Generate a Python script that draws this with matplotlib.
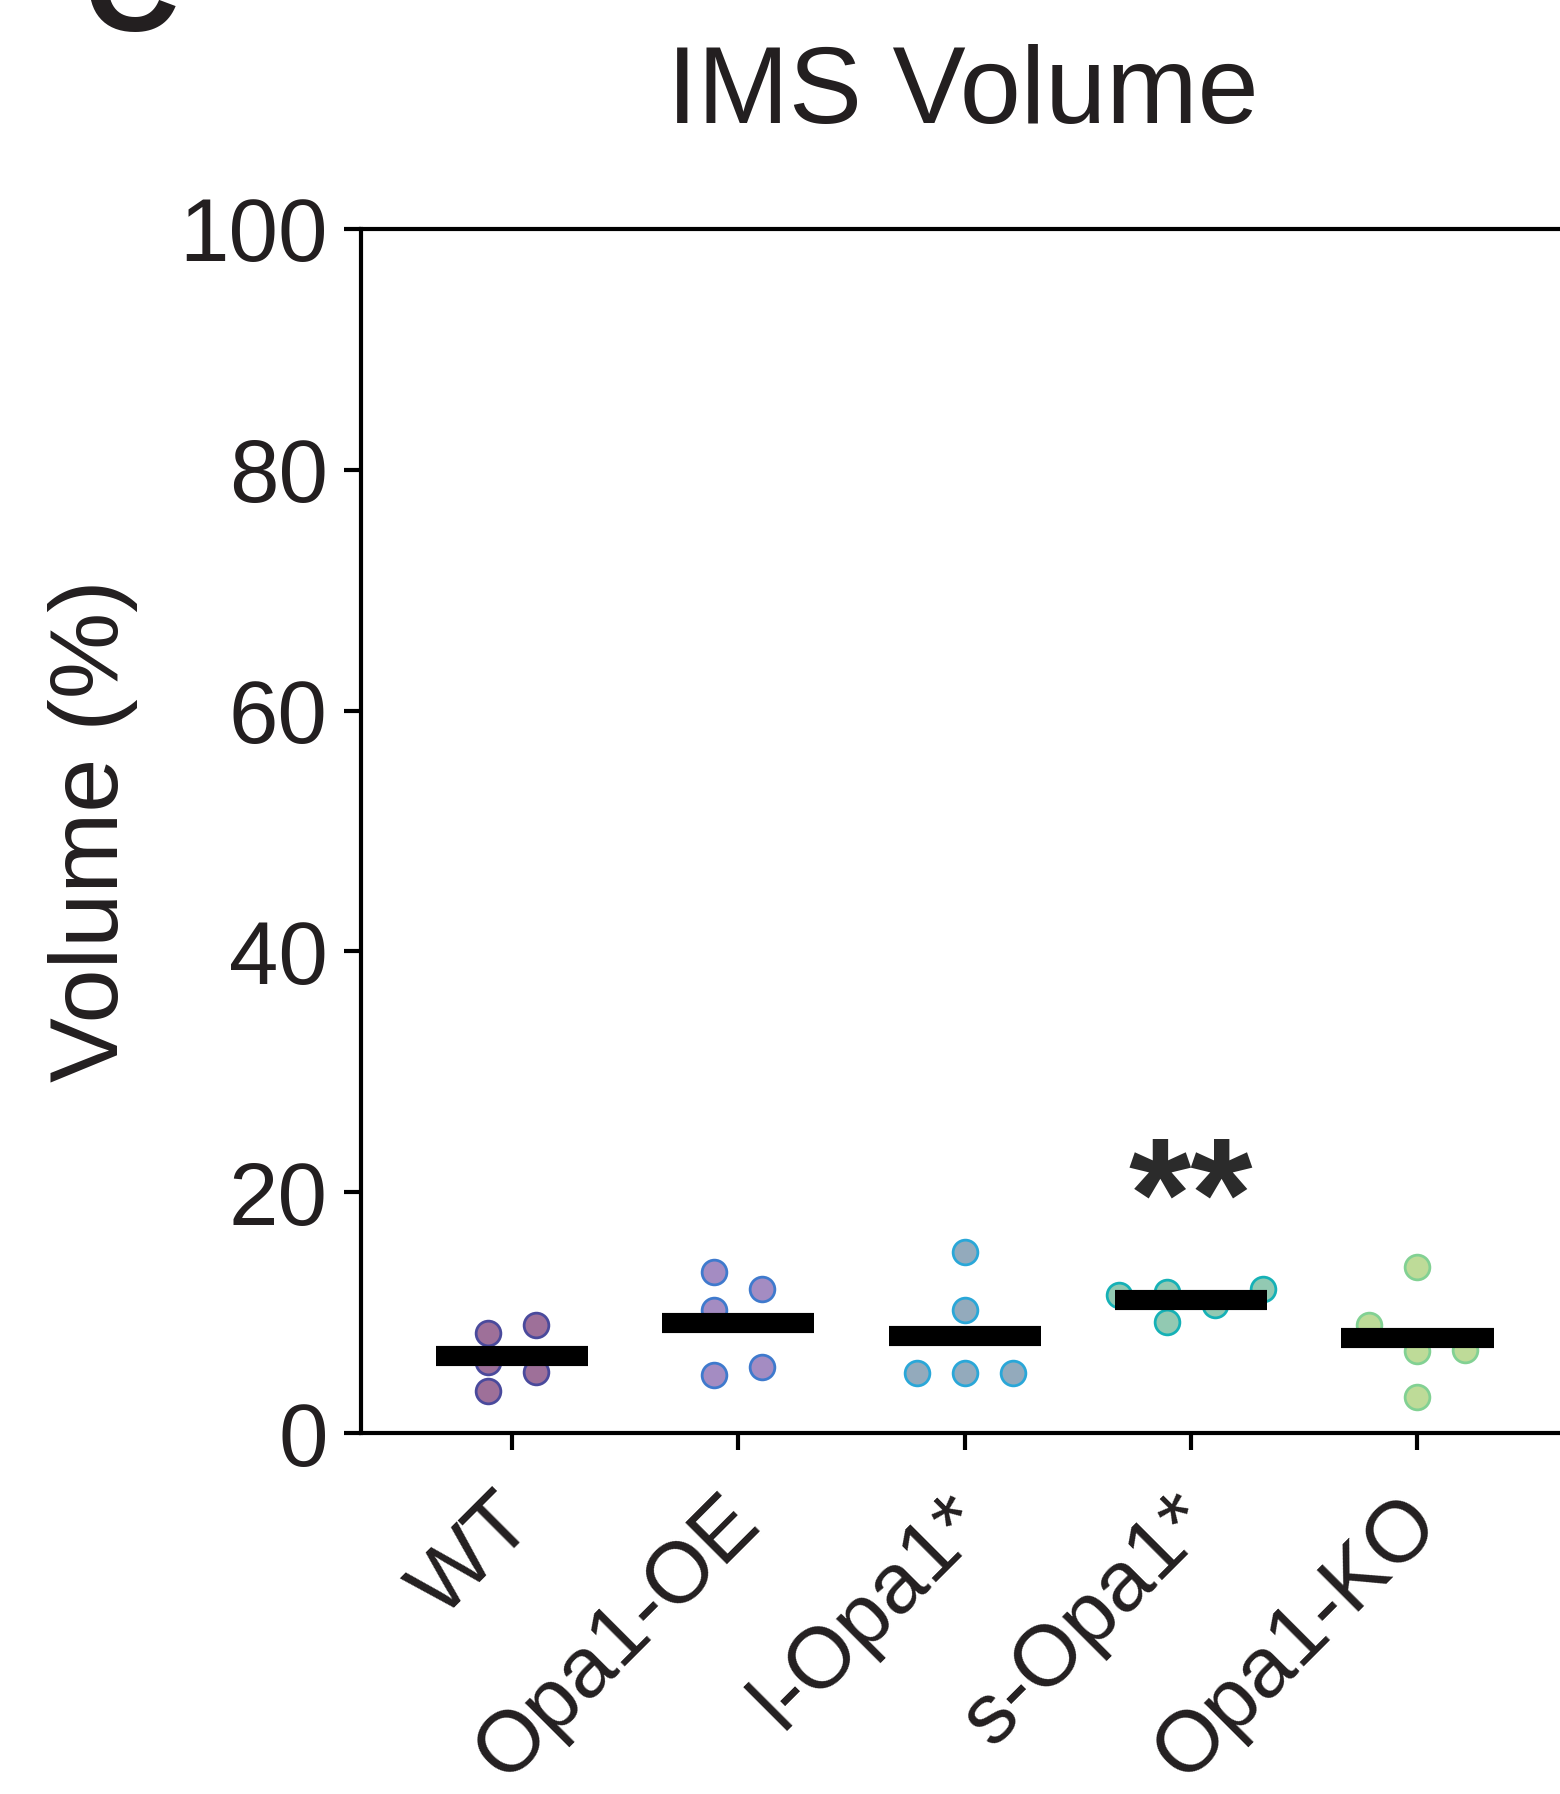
import numpy as np
import matplotlib
matplotlib.use("Agg")
import matplotlib.pyplot as plt
from matplotlib.transforms import ScaledTranslation

# ---- data -------------------------------------------------------------
groups = ["WT", "Opa1-OE", "l-Opa1*", "s-Opa1*", "Opa1-KO"]
wt = [8.3, 9.0, 5.9, 5.1, 3.5]
opa1_oe = [13.35, 11.96, 10.22, 4.82, 5.51]
l_opa1 = [15.05, 10.2, 4.95, 4.95, 4.95]
s_opa1 = [11.75, 12.0, 9.25, 10.65, 11.45]
opa1_ko = [13.75, 8.95, 6.8, 6.9, 2.95]
values = [wt, opa1_oe, l_opa1, s_opa1, opa1_ko]
yticks = [0, 20, 40, 60, 80, 100]
stars = {"s-Opa1*": "**"}

# ---- style ------------------------------------------------------------
face_colors = ["#9e7099", "#a48cc2", "#93aabc", "#92c9b2", "#bedb98"]
edge_colors = ["#4a4a9c", "#3f7acd", "#2aa7d8", "#16b1b6", "#82d193"]
ink = "#231f20"
plt.rcParams["font.family"] = ["Liberation Sans", "DejaVu Sans"]


def swarm_slots(vals, min_gap=2.3):
    """Greedy column assignment so neighbouring dots do not collide."""
    vals = np.asarray(vals, dtype=float)
    slots = np.zeros(len(vals), dtype=int)
    placed = []
    candidates = [0]
    for k in range(1, 12):
        candidates += [k, -k]
    for i in np.argsort(vals, kind="stable"):
        for k in candidates:
            ok = all(abs(k - slots[j]) >= 2 or abs(vals[i] - vals[j]) >= min_gap
                     for j in placed)
            if ok:
                slots[i] = k
                break
        placed.append(i)
    return slots - (slots.min() + slots.max()) / 2.0


fig = plt.figure(figsize=(15.6, 17.94), dpi=100)
W, H = 1560.0, 1794.0
ax = fig.add_axes([360.5 / W, 1 - 1433 / H, (1566 - 360.5) / W, (1433 - 229) / H])

step = 0.106
half_width = 0.336
for i, (name, vals) in enumerate(zip(groups, values)):
    offs = swarm_slots(vals) * step
    ax.plot(i + offs, vals, linestyle="none", marker="o", markersize=17.8,
            markerfacecolor=face_colors[i], markeredgecolor=edge_colors[i],
            markeredgewidth=2.0, zorder=3)
    m = np.mean(vals)
    ax.plot([i - half_width, i + half_width], [m, m], color="black", lw=14.5,
            solid_capstyle="butt", zorder=4)
    if name in stars:
        ax.text(i, 15.3, stars[name], ha="center", va="baseline",
                fontsize=115, fontweight="bold", color="#2b2b2b")

ax.set_xlim(-0.669, 4.656)
ax.set_ylim(0, 100)
ax.set_yticks(yticks)
ax.set_yticklabels([str(t) for t in yticks])
ax.set_xticks(range(len(groups)))
ax.set_xticklabels(groups, rotation=45, ha="right", va="top",
                   rotation_mode="anchor")

for side in ["left", "bottom", "top", "right"]:
    ax.spines[side].set_linewidth(3.0)
    ax.spines[side].set_color("black")
ax.tick_params(axis="both", which="major", length=12.5, width=3.0,
               color="black", labelsize=64, labelcolor=ink, direction="out")
ax.tick_params(axis="y", pad=11)
ax.tick_params(axis="x", pad=14, labelsize=62)

# slide the rotated category labels a little down-left along their slant
shift = ScaledTranslation(-20 / 100, -11 / 100, fig.dpi_scale_trans)
for lab in ax.get_xticklabels():
    lab.set_transform(lab.get_transform() + shift)

ax.set_ylabel("Volume (%)", fontsize=70, color=ink, va="center")
ax.yaxis.set_label_coords(-0.222, 0.5)
ax.set_title("IMS Volume", fontsize=79, color=ink, pad=76)

# panel letter, mostly above the top edge
fig.text(131 / W, 1 - 31 / H, "C", ha="center", va="baseline",
         fontsize=95, fontweight="bold", color=ink)

fig.savefig("out.png", dpi=100)
